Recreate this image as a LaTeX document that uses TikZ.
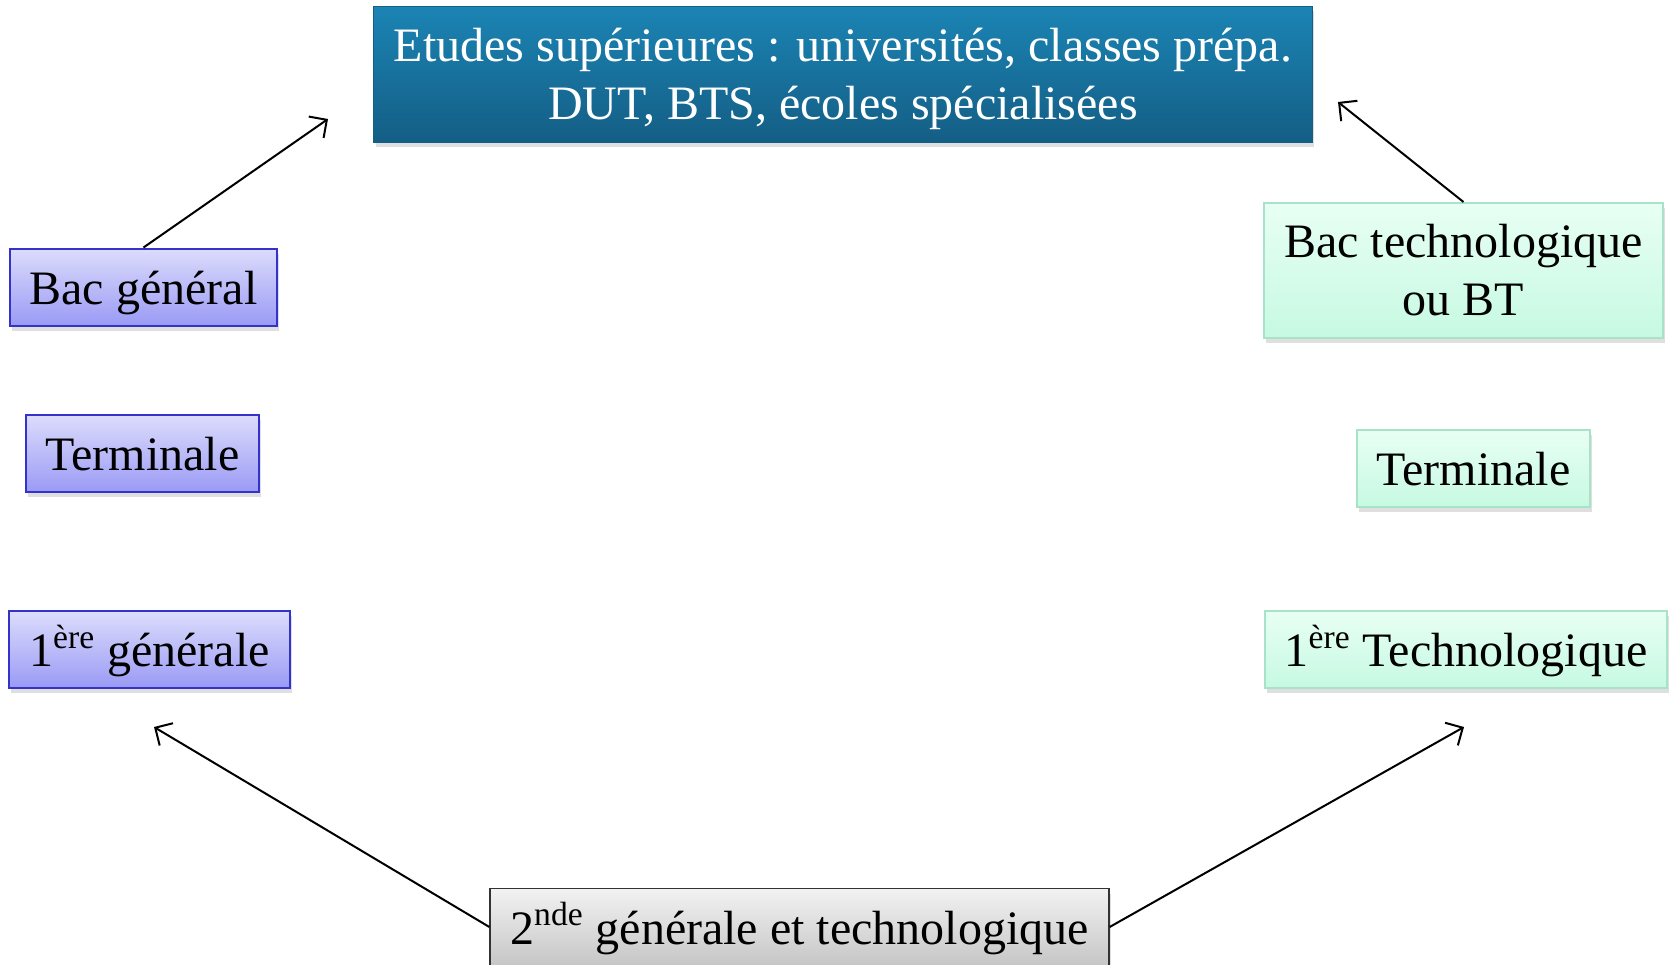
\documentclass[tikz,border=0pt]{standalone}
\usepackage{fontspec}
\setmainfont{Liberation Serif}
\usetikzlibrary{arrows.meta}
\usetikzlibrary{shadows}

\definecolor{topA}{HTML}{1B84B4}
\definecolor{topB}{HTML}{145E85}
\definecolor{genA}{HTML}{DCDCFC}
\definecolor{genB}{HTML}{9A9AF5}
\definecolor{genline}{HTML}{3333CC}
\definecolor{techA}{HTML}{E8FFF4}
\definecolor{techB}{HTML}{C6F9E2}
\definecolor{techline}{HTML}{A8E3C8}
\definecolor{secA}{HTML}{F2F2F2}
\definecolor{secB}{HTML}{C6C6C6}

\tikzset{
  box/.style={rectangle,inner xsep=10pt,minimum height=38.5pt,
    font=\fontsize{24}{29}\selectfont,
    drop shadow={opacity=0.25,shadow xshift=1pt,shadow yshift=-2.5pt}},
  oneline/.style={text height=17pt,text depth=0pt},
  etudes/.style={box,align=center,draw=topB,line width=0.5pt,top color=topA,bottom color=topB,
    text=white,minimum width=467pt,minimum height=68pt,text depth=0pt},
  gen/.style={box,oneline,draw=genline,line width=1pt,top color=genA,bottom color=genB},
  techbox/.style={box,draw=techline,line width=1pt,top color=techA,bottom color=techB},
  tech/.style={techbox,oneline},
  seconde/.style={box,oneline,draw=black!80,line width=0.8pt,top color=secA,bottom color=secB}
}

\begin{document}
\begin{tikzpicture}[x=0.5pt,y=-0.5pt,line width=1pt,>={Straight Barb[length=6.5pt,width=13pt]}]
      \useasboundingbox (0,0) rectangle (1673,964);
      \node[etudes] (ES) at (843,74) {Etudes supérieures : universités, classes prépa.\\DUT, BTS, écoles spécialisées};
      \node[gen] (BG) at (143.5,287) {Bac général};
      \node[gen] (TG) at (142.5,453.5) {Terminale};
      \node[gen] (PG) at (149.5,649.5) {1\textsuperscript{ère} générale};
      \node[techbox,align=center,minimum height=67.5pt] (BT) at (1463.5,270.5) {Bac technologique\\ou BT};
      \node[tech] (TT) at (1473.5,468.5) {Terminale};
      \node[tech] (PT) at (1466,649.5) {1\textsuperscript{ère} Technologique};
      \node[seconde] (SN) at (799.5,927) {2\textsuperscript{nde} générale et technologique};
      \coordinate (ESg) at (328,119);
      \coordinate (ESt) at (1338,102);
      \coordinate (PGa) at (154,727);
      \coordinate (PTa) at (1464,727);
      \draw[->] (BG.north) -- (ESg);
      \draw[->] (BT.north) -- (ESt);
      \draw[->] (SN.west) -- (PGa);
      \draw[->] (SN.east) -- (PTa);
    \end{tikzpicture}
\end{document}
